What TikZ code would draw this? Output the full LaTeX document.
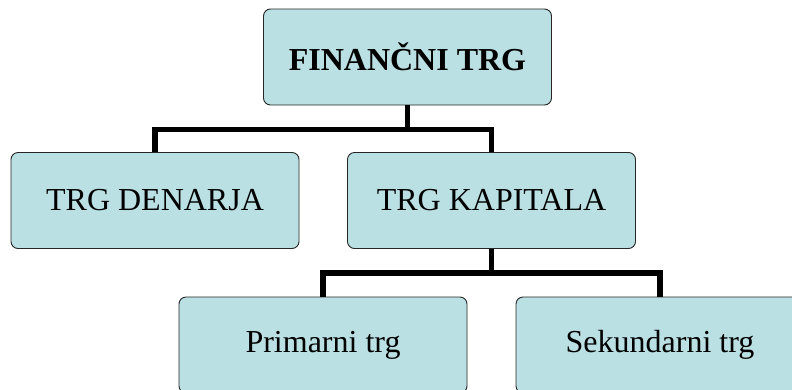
\documentclass[tikz,border=0pt]{standalone}
\usepackage{fontspec}
\setmainfont{Liberation Serif}
\usetikzlibrary{positioning}
\definecolor{boxfill}{RGB}{186,224,227}
\tikzset{
  trg/.style={draw=black!85,fill=boxfill,rounded corners=7pt,line width=0.9pt,
    minimum width=288pt,minimum height=96pt,inner sep=0pt,
    font=\fontsize{32}{38}\selectfont},
  link/.style={line width=5.5pt}
}

\begin{document}
\begin{tikzpicture}[x=1pt,y=-1pt]
\useasboundingbox (0,0) rectangle (792,389);
\clip (0,0) rectangle (792,389);
% boxes
\node[trg] (fin) at (407.5,57) {\textbf{FINANČNI TRG}};
\node[trg] (denarja) at (155,200.5) {TRG DENARJA};
\node[trg] (kapital) at (491.5,200.5) {TRG KAPITALA};
\node[trg] (primarni) at (323,345) {Primarni trg};
\node[trg] (sekundarni) at (660,345) {Sekundarni trg};
% connectors
\coordinate (j1) at (407.5,129.5);
\coordinate (j2) at (491.5,273);
\draw[link] (fin.south) -- (j1);
\draw[link] (denarja.north) |- (j1) -| (kapital.north);
\draw[link] (kapital.south) -- (j2);
\draw[link] (primarni.north) |- (j2) -| (sekundarni.north);
\end{tikzpicture}
\end{document}
